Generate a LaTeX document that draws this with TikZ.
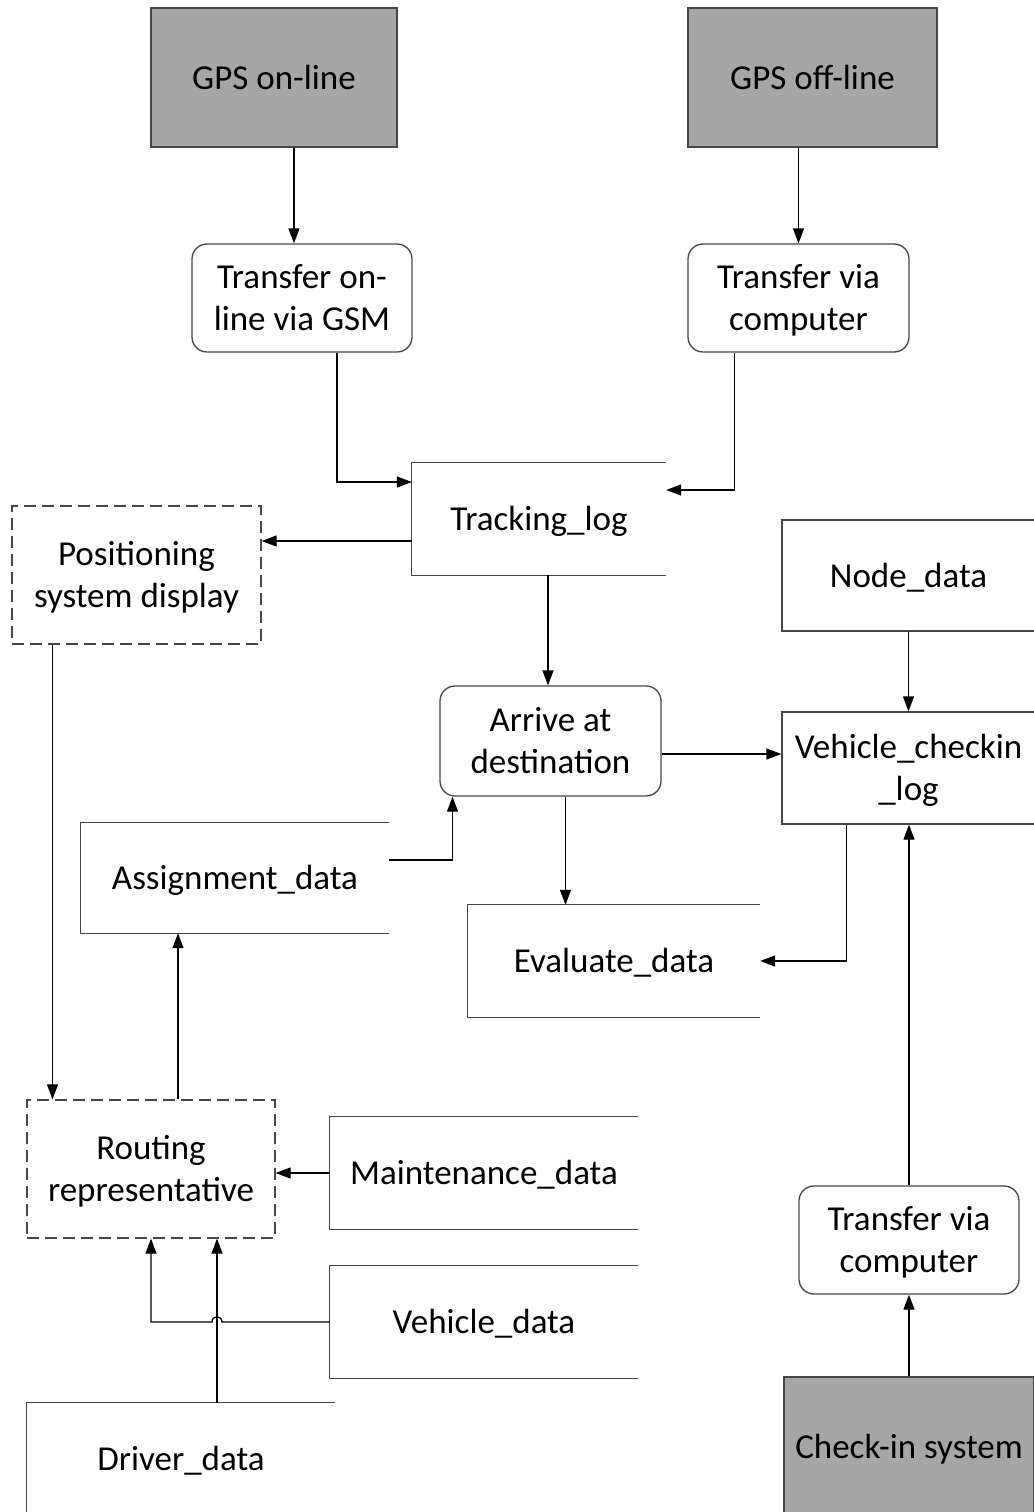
\documentclass[tikz,border=0pt]{standalone}
\usepackage{fontspec}
\setmainfont{Carlito}
\usetikzlibrary{arrows.meta,calc}
\definecolor{sysgray}{RGB}{166,166,166}
\definecolor{edgegray}{RGB}{70,70,70}
% every text line gets the full ascent/descent of the font (sums to the 42pt line pitch)
\newcommand{\linestrut}{\rule[-9.4pt]{0pt}{42pt}}
\newcommand{\oneline}[1]{\linestrut#1}
\newcommand{\twolines}[2]{\vbox{\offinterlineskip\halign{\hfil##\hfil\cr\linestrut#1\cr\linestrut#2\cr}}}
\begin{document}
\begin{tikzpicture}[x=1pt,y=-1pt,
  every node/.style={font=\fontsize{35}{42}\selectfont, inner sep=0pt},
  extsys/.style={draw=edgegray, line width=1.3pt, fill=sysgray},
  procbox/.style={draw=edgegray, line width=1.3pt, rounded corners=15pt},
  agent/.style={draw=edgegray, line width=1.3pt, dash pattern=on 12pt off 6pt},
  plainbox/.style={draw=edgegray, line width=1.3pt},
  storebox/.style={},
  storeedge/.style={draw=edgegray, line width=1.3pt},
  arr/.style={line width=1.3pt, -{Triangle[length=15pt,width=11pt]}},
]
\useasboundingbox (0,0) rectangle (1033,1512);

% external sources
\node[extsys, minimum width=246pt, minimum height=139pt] (gpson)  at (274,77.5)  {\oneline{GPS on-line}};
\node[extsys, minimum width=249pt, minimum height=139pt] (gpsoff) at (812.5,77.5) {\oneline{GPS off-line}};
\node[extsys, minimum width=250pt, minimum height=139pt] (checkin) at (909,1446.5) {\oneline{Check-in system}};

% processes
\node[procbox, minimum width=220pt, minimum height=108pt] (tgsm)   at (302,298)   {\twolines{Transfer on-}{line via GSM}};
\node[procbox, minimum width=221pt, minimum height=108pt] (tcomp1) at (798.5,298) {\twolines{Transfer via}{computer}};
\node[procbox, minimum width=221pt, minimum height=110pt] (arrive) at (550.5,741) {\twolines{Arrive at}{destination}};
\node[procbox, minimum width=220pt, minimum height=108pt] (tcomp2) at (909,1240)  {\twolines{Transfer via}{computer}};

% agents
\node[agent, minimum width=249pt, minimum height=138pt] (pos)     at (136.5,575) {\twolines{Positioning}{system display}};
\node[agent, minimum width=248pt, minimum height=138pt] (routing) at (151,1169)  {\twolines{Routing}{representative}};

% closed data boxes
\node[plainbox, minimum width=253pt, minimum height=111pt] (nodedata) at (908.5,575.5) {\oneline{Node\_data}};
\node[plainbox, minimum width=253pt, minimum height=112pt] (vcheck)   at (908.5,768)   {\twolines{Vehicle\_checkin}{\_log}};

% open data stores
\node[storebox, minimum width=254pt, minimum height=112pt] (track)    at (539,519)  {\oneline{Tracking\_log}};
\node[storebox, minimum width=308pt, minimum height=110pt] (assign)   at (235,878)  {\oneline{Assignment\_data}};
\node[storebox, minimum width=292pt, minimum height=112pt] (evaluate) at (614,961)  {\oneline{Evaluate\_data}};
\node[storebox, minimum width=308pt, minimum height=112pt] (maint)    at (484,1173) {\oneline{Maintenance\_data}};
\node[storebox, minimum width=308pt, minimum height=112pt] (vdata)    at (484,1322) {\oneline{Vehicle\_data}};
\node[storebox, minimum width=308pt, minimum height=112pt] (driver)   at (181,1459) {\oneline{Driver\_data}};
\foreach \s in {track,assign,evaluate,maint,vdata,driver}
  \draw[storeedge] (\s.north east) -- (\s.north west) -- (\s.south west) -- (\s.south east);

% data flows
\draw[arr] ([xshift=20pt]gpson.south) coordinate (f1) -- (f1 |- tgsm.north);
\draw[arr] ([xshift=-14pt]gpsoff.south) coordinate (f2) -- (f2 |- tcomp1.north);
\draw[arr] ([xshift=35pt]tgsm.south) |- ([yshift=37pt]track.west);
\draw[arr] ([xshift=-64pt]tcomp1.south) |- ([yshift=29pt]track.east);
\draw[arr] ([yshift=-22pt]track.west) coordinate (f3) -- (f3 -| pos.east);
\draw[arr] ([xshift=-84pt]pos.south) coordinate (f4) -- (f4 |- routing.north);
\draw[arr] ([xshift=9pt]track.south) coordinate (f5) -- (f5 |- arrive.north);
\draw[arr] ([yshift=-13pt]arrive.east) coordinate (f6) -- (f6 -| vcheck.west);
\draw[arr] (nodedata.south) -- (vcheck.north);
\draw[arr] ([yshift=18pt]assign.east) -| ([xshift=-98pt]arrive.south);
\draw[arr] ([xshift=15pt]arrive.south) coordinate (f7) -- (f7 |- evaluate.north);
\draw[arr] ([xshift=-62pt]vcheck.south) |- (evaluate.east);
\draw[arr] ([xshift=27pt]routing.north) coordinate (f8) -- (f8 |- assign.south);
\draw[arr] (maint.west) -- (maint.west -| routing.east);
\coordinate (dx) at ([xshift=36pt]driver.north);
\coordinate (jc) at (vdata.west -| dx);
\draw[arr] (vdata.west) -- ([xshift=5pt]jc)
  .. controls ([xshift=5pt,yshift=7pt]jc) and ([xshift=-5pt,yshift=7pt]jc) .. ([xshift=-5pt]jc)
  -| (routing.south);
\draw[arr] (dx) -- (dx |- routing.south);
\draw[arr] (checkin.north) -- (tcomp2.south);
\draw[arr] (tcomp2.north) -- (tcomp2.north |- vcheck.south);
\end{tikzpicture}
\end{document}
